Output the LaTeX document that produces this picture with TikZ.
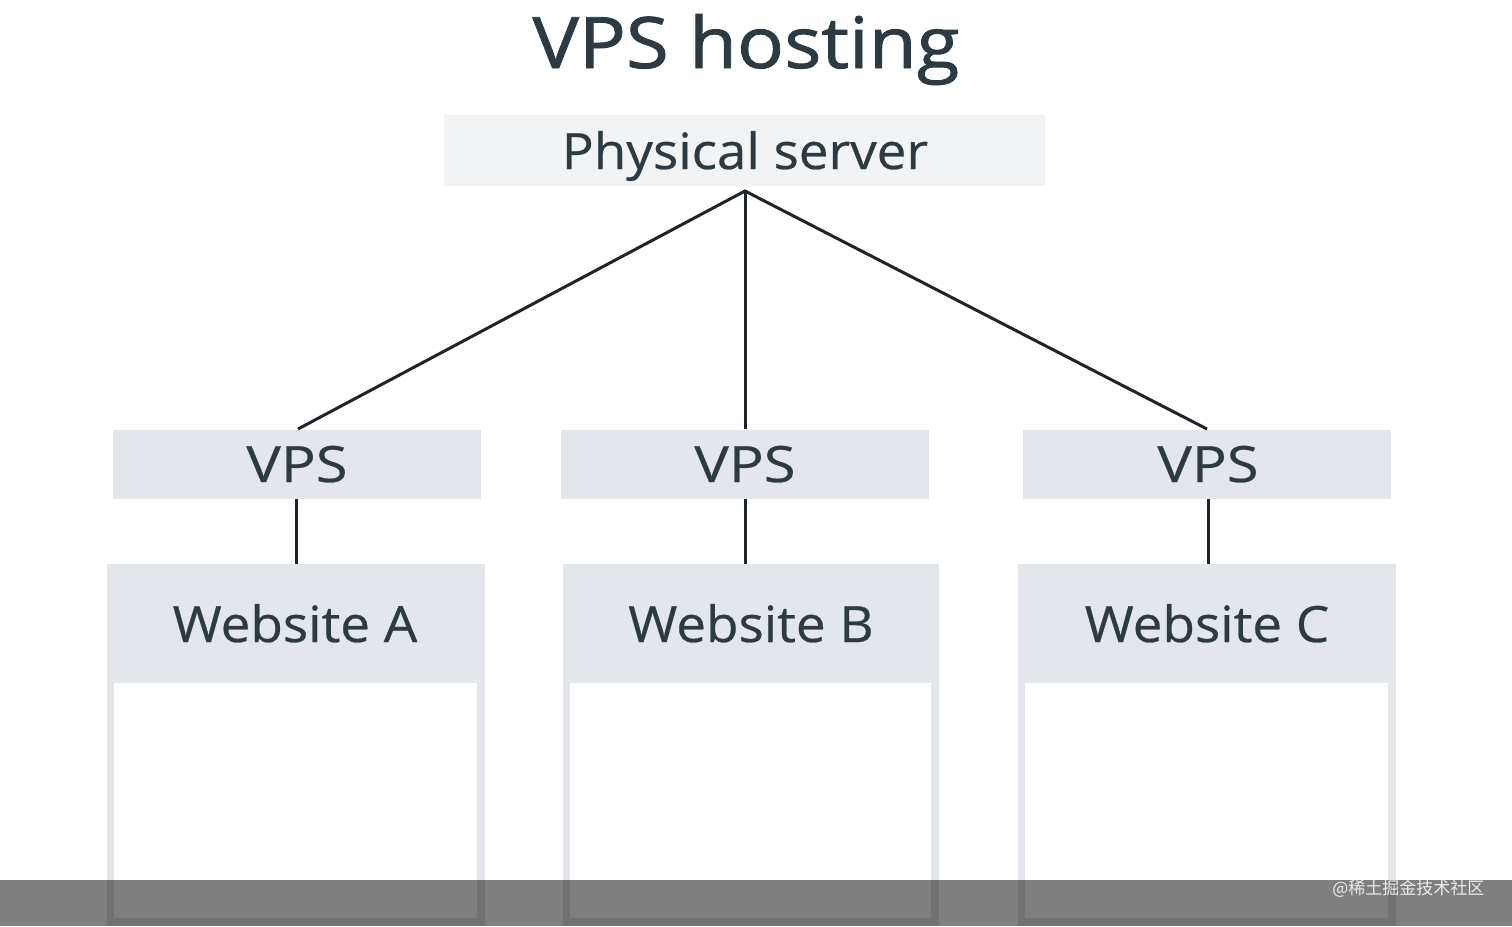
\documentclass[tikz,border=0pt]{standalone}
\usepackage{fontspec}
\setmainfont{Open Sans}
\newfontfamily\titlefont[FakeBold=1.2,FakeStretch=1.1]{Open Sans}
\newfontfamily\lblfont[FakeBold=0.5,FakeStretch=1.06]{Open Sans}
\newfontfamily\vpsfont[FakeBold=0.5,FakeStretch=1.16]{Open Sans}
\newfontfamily\cjk{Noto Sans CJK SC}
\definecolor{txt}{HTML}{2D3A42}
\definecolor{lightbox}{HTML}{F1F3F5}
\definecolor{midbox}{HTML}{E3E6EA}
\definecolor{ln}{HTML}{1E2428}
\begin{document}
\begin{tikzpicture}[x=1pt,y=-1pt,
  lbl/.style={text=txt,font=\lblfont\fontsize{50}{55}\selectfont},
  vlbl/.style={text=txt,font=\vpsfont\fontsize{50}{55}\selectfont},
  vpsbox/.style={fill=midbox,draw=none,minimum width=368pt,minimum height=69pt,inner sep=0pt,anchor=north west},
  conn/.style={draw=ln,line width=3pt}]
\useasboundingbox (0,0) rectangle (1512,926);
\fill[white] (0,0) rectangle (1512,926);
% title
\node[text=txt,font=\titlefont\fontsize{71}{80}\selectfont,anchor=base] (title) at (746,68) {VPS hosting};
% physical server
\node[fill=lightbox,minimum width=601pt,minimum height=71pt,inner sep=0pt,anchor=north west] (ps) at (444,115) {};
\node[lbl,anchor=base] (pst) at (745,169) {Physical server};
\coordinate (top) at (745,191);
% VPS boxes
\node[vpsbox] (v1) at (113,430) {};
\node[vpsbox] (v2) at (561,430) {};
\node[vpsbox] (v3) at (1023,430) {};
\node[vlbl,anchor=base] (v1t) at (297,482) {VPS};
\node[vlbl,anchor=base] (v2t) at (745,482) {VPS};
\node[vlbl,anchor=base] (v3t) at (1208,482) {VPS};
\coordinate (v1a) at (298,429);
\coordinate (v2a) at (745,429);
\coordinate (v3a) at (1207,429);
\draw[conn] (v1a) -- (top) -- (v3a);
\draw[conn] (top) -- (v2a);
% website boxes
\foreach \n/\xa/\xb in {A/107/485,B/563/939,C/1018/1396}{
  \fill[midbox] (\xa,564) rectangle (\xb,926);
  \fill[white] (\xa+7,683) rectangle (\xb-8,918);
}
\node[lbl,anchor=base] (w1) at (295,642) {Website A};
\node[lbl,anchor=base] (w2) at (751,642) {Website B};
\node[lbl,anchor=base] (w3) at (1207,642) {Website C};
\coordinate (w1a) at (296,564);
\coordinate (w2a) at (745,564);
\coordinate (w3a) at (1208,564);
\coordinate (v1b) at (296,499);
\coordinate (v2b) at (745,499);
\coordinate (v3b) at (1208,499);
\draw[conn] (v1b) -- (w1a);
\draw[conn] (v2b) -- (w2a);
\draw[conn] (v3b) -- (w3a);
% subtitle bar
\fill[black,opacity=0.5] (0,880) rectangle (1512,926);
\node[text=white!85!gray,font=\cjk\fontsize{17}{20}\selectfont,anchor=east] (wm) at (1488,889) {@稀土掘金技术社区};
\end{tikzpicture}
\end{document}
